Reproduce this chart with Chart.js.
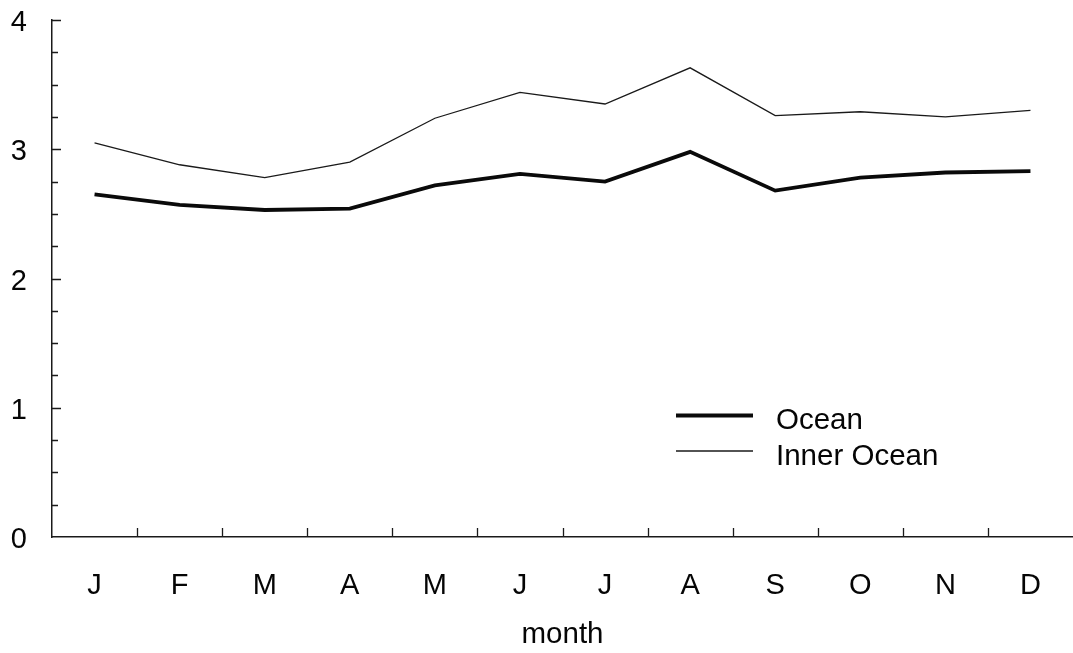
<!DOCTYPE html>
<html>
<head>
<meta charset="utf-8">
<title>Monthly values: Ocean and Inner Ocean</title>
<script src="https://cdn.jsdelivr.net/npm/chart.js@4.4.1/dist/chart.umd.min.js"></script>
<style>
  html, body { margin: 0; padding: 0; background: #ffffff; }
  #wrap { width: 1073px; height: 653px; }
</style>
</head>
<body>
<div id="wrap"><canvas id="chart" width="1073" height="653"></canvas></div>
<script>
// Month initials along the category axis
const months = ['J', 'F', 'M', 'A', 'M', 'J', 'J', 'A', 'S', 'O', 'N', 'D'];

// Series values per month
const ocean      = [2.65, 2.57, 2.53, 2.54, 2.72, 2.81, 2.75, 2.98, 2.68, 2.78, 2.82, 2.83];
const innerOcean = [3.05, 2.88, 2.78, 2.90, 3.24, 3.44, 3.35, 3.63, 3.26, 3.29, 3.25, 3.30];

// Value axis: range, minor tick step and the labelled ticks
const yMin = 0;
const yMax = 4;
const yStep = 0.25;
const yLabelled = [0, 1, 2, 3, 4];

const FONT = "'Liberation Sans', Arial, sans-serif";
const INK = '#050505';

// Tick marks drawn on the inside of both axes
const innerTicks = {
  id: 'innerTicks',
  afterDraw(chart, args, opts) {
    const { ctx, chartArea } = chart;
    const x = chart.scales.x;
    const y = chart.scales.y;
    ctx.save();
    ctx.strokeStyle = opts.color;
    ctx.lineWidth = opts.width;
    ctx.beginPath();
    // value axis: long marks on labelled values, short marks between
    y.ticks.forEach((t, i) => {
      if (t.value === yMin) return;
      const py = Math.round(y.getPixelForTick(i)) + 0.5;
      const len = yLabelled.includes(t.value) ? opts.major : opts.minor;
      ctx.moveTo(chartArea.left, py);
      ctx.lineTo(chartArea.left + len, py);
    });
    // category axis: marks on the borders between months
    for (let i = 1; i < x.ticks.length; i++) {
      const px = Math.round(x.getPixelForValue(i - 0.5)) + 0.5;
      ctx.moveTo(px, chartArea.bottom);
      ctx.lineTo(px, chartArea.bottom - opts.major);
    }
    ctx.stroke();
    ctx.restore();
  }
};

// Line-sample legend placed inside the plot
const insideLegend = {
  id: 'insideLegend',
  afterDraw(chart, args, opts) {
    const { ctx } = chart;
    ctx.save();
    ctx.font = opts.font;
    ctx.fillStyle = INK;
    ctx.textBaseline = 'middle';
    ctx.textAlign = 'left';
    chart.data.datasets.forEach((ds, i) => {
      const yy = opts.top + i * opts.rowGap;
      ctx.strokeStyle = ds.borderColor;
      ctx.lineWidth = ds.borderWidth;
      ctx.beginPath();
      ctx.moveTo(opts.left, yy);
      ctx.lineTo(opts.left + opts.sample, yy);
      ctx.stroke();
      ctx.fillText(ds.label, opts.left + opts.sample + opts.gap, yy + opts.textShift);
    });
    ctx.restore();
  }
};

new Chart(document.getElementById('chart'), {
  type: 'line',
  data: {
    labels: months,
    datasets: [
      {
        label: 'Ocean',
        data: ocean,
        borderColor: '#0a0a0a',
        borderWidth: 3.8,
        pointRadius: 0,
        tension: 0,
        fill: false
      },
      {
        label: 'Inner Ocean',
        data: innerOcean,
        borderColor: '#1a1a1a',
        borderWidth: 1.3,
        pointRadius: 0,
        tension: 0,
        fill: false
      }
    ]
  },
  plugins: [innerTicks, insideLegend],
  options: {
    responsive: false,
    animation: false,
    devicePixelRatio: 1,
    layout: { padding: { top: 20, right: 0, bottom: 0, left: 0 } },
    plugins: {
      legend: { display: false },
      tooltip: { enabled: false },
      innerTicks: { color: '#1a1a1a', width: 1.3, major: 9, minor: 6 },
      insideLegend: {
        left: 676, top: 415.5, rowGap: 35.5, sample: 77, gap: 23, textShift: 5.5,
        font: "29.5px 'Liberation Sans', Arial, sans-serif"
      }
    },
    scales: {
      x: {
        type: 'category',
        offset: true,
        grid: { display: false, drawTicks: false, offset: true },
        border: { display: true, color: '#1a1a1a', width: 1.5 },
        ticks: {
          color: INK,
          padding: 32,
          maxRotation: 0,
          autoSkip: false,
          font: { family: FONT, size: 29 }
        },
        title: {
          display: true,
          text: 'month',
          color: INK,
          padding: { top: 0, bottom: 0 },
          font: { family: FONT, size: 29.5 }
        },
        afterFit(scale) { scale.height = 116; }
      },
      y: {
        min: yMin,
        max: yMax,
        // outer tick marks are not drawn; their length sets the label gap
        grid: { display: false, drawTicks: true, tickLength: 25 },
        border: { display: true, color: '#1a1a1a', width: 1.5 },
        ticks: {
          stepSize: yStep,
          maxTicksLimit: 40,
          autoSkip: false,
          color: INK,
          padding: 0,
          labelOffset: 3,
          font: { family: FONT, size: 29 },
          callback: (v) => (yLabelled.includes(v) ? String(v) : '')
        },
        afterFit(scale) { scale.width = 52; }
      }
    }
  }
});
</script>
</body>
</html>
